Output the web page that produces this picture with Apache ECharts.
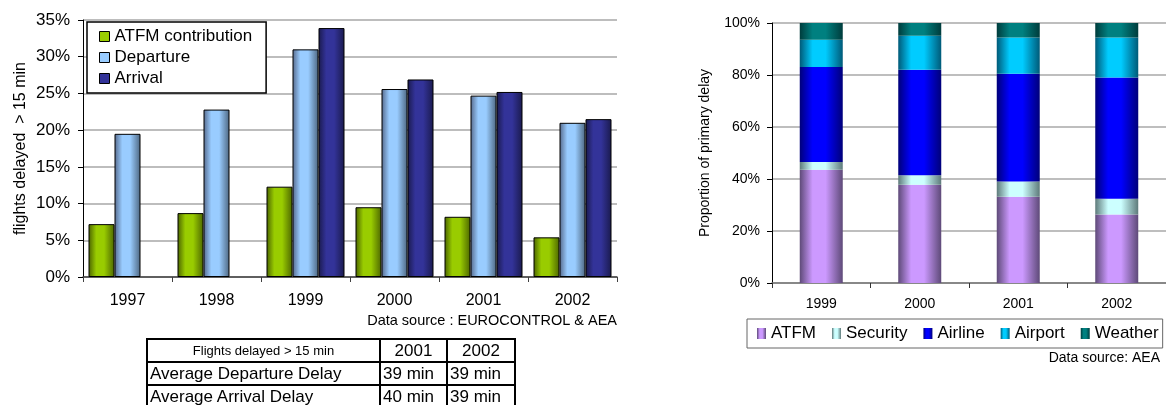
<!DOCTYPE html>
<html>
<head>
<meta charset="utf-8">
<script src="https://cdn.jsdelivr.net/npm/echarts@6/dist/echarts.min.js"></script>
<style>
  html, body { margin: 0; padding: 0; background: #fff; overflow: hidden; }
  #wrap { position: relative; width: 1166px; height: 405px; overflow: hidden; }
  #chart { position: absolute; left: 0; top: 0; width: 1166px; height: 405px; }
  #delayTable {
    position: absolute; left: 146px; top: 338px;
    border-collapse: collapse; font-family: "Liberation Sans", Arial, sans-serif;
    color: #000;
  }
  #delayTable td { border: 2px solid #000; padding: 0 2px; height: 21px; line-height: 21px; font-size: 17px; white-space: nowrap; box-sizing: border-box; }
  #delayTable td.head { font-size: 13px; text-align: center; }
  #delayTable td.year { text-align: center; }
</style>
</head>
<body>
<div id="wrap">
  <div id="chart"></div>
  <table id="delayTable"></table>
</div>
<script>
// Flights delayed > 15 min (share of flights)
const years = ['1997', '1998', '1999', '2000', '2001', '2002'];
const atfmShare = [0.072, 0.087, 0.123, 0.095, 0.082, 0.054];
const departureShare = [0.195, 0.228, 0.310, 0.256, 0.247, 0.210];
const arrivalShare = [null, null, 0.339, 0.269, 0.252, 0.215];

// Breakdown of primary delay causes
const causeYears = ['1999', '2000', '2001', '2002'];
const causeAtfm = [0.436, 0.378, 0.332, 0.263];
const causeSecurity = [0.029, 0.036, 0.058, 0.061];
const causeAirline = [0.366, 0.406, 0.415, 0.466];
const causeAirport = [0.105, 0.131, 0.139, 0.154];
const causeWeather = [0.064, 0.049, 0.056, 0.056];

// Average delay table
const tableHeader = ['Flights delayed > 15 min', '2001', '2002'];
const tableRows = [
  ['Average Departure Delay', '39 min', '39 min'],
  ['Average Arrival Delay', '40 min', '39 min']
];

const FONT = '"Liberation Sans", Arial, sans-serif';

function cylinder(edgeL, light, edgeR) {
  return {
    type: 'linear', x: 0, y: 0, x2: 1, y2: 0,
    colorStops: [
      { offset: 0, color: edgeL },
      { offset: 0.3, color: light },
      { offset: 0.6, color: light },
      { offset: 1, color: edgeR }
    ]
  };
}

const pct = v => Math.round(v * 100) + '%';

const leftSeries = [
  { name: 'ATFM contribution', data: atfmShare, solid: '#99cc00', grad: cylinder('#4a6200', '#99cc00', '#4d6600') },
  { name: 'Departure', data: departureShare, solid: '#99ccff', grad: cylinder('#55688a', '#99ccff', '#4d6680') },
  { name: 'Arrival', data: arrivalShare, solid: '#333399', grad: cylinder('#1a1a4d', '#333399', '#1a1a4d') }
];

const rightSeries = [
  { name: 'ATFM', data: causeAtfm, grad: cylinder('#5e4a78', '#cc99ff', '#5e4a78') },
  { name: 'Security', data: causeSecurity, grad: cylinder('#5e7a7a', '#ccffff', '#5e7a7a') },
  { name: 'Airline', data: causeAirline, grad: cylinder('#00007a', '#0000ff', '#00007a') },
  { name: 'Airport', data: causeAirport, grad: cylinder('#005a78', '#00ccff', '#005a78') },
  { name: 'Weather', data: causeWeather, grad: cylinder('#003c3c', '#008080', '#003c3c') }
];

const chart = echarts.init(document.getElementById('chart'), null, { renderer: 'canvas' });

const option = {
  animation: false,
  textStyle: { fontFamily: FONT, color: '#000' },
  grid: [
    { left: 83, top: 20, width: 534, height: 257 },
    { left: 772, top: 23, width: 394, height: 260 }
  ],
  legend: [
    {
      orient: 'vertical', left: 87, top: 22,
      padding: [6, 14, 6, 12],
      borderColor: '#000', borderWidth: 1.5,
      backgroundColor: '#fff',
      itemWidth: 10, itemHeight: 10, itemGap: 4,
      icon: 'rect',
      textStyle: { fontSize: 17, fontFamily: FONT, color: '#000' },
      data: leftSeries.map(s => ({ name: s.name, itemStyle: { color: s.solid, borderColor: '#000', borderWidth: 1 } }))
    },
    {
      orient: 'horizontal', left: 747, top: 319, width: 420,
      padding: [6, 4, 6, 10],
      borderColor: '#666', borderWidth: 1,
      itemWidth: 9, itemHeight: 11, itemGap: 16,
      icon: 'rect',
      textStyle: { fontSize: 17, fontFamily: FONT, color: '#000' },
      data: rightSeries.map(s => ({ name: s.name, itemStyle: { color: s.grad, borderWidth: 0 } }))
    }
  ],
  xAxis: [
    {
      type: 'category', gridIndex: 0, data: years,
      axisLine: { lineStyle: { color: '#404040', width: 1.5 } },
      axisTick: { show: true, length: 5, lineStyle: { color: '#404040' } },
      axisLabel: { fontSize: 16, color: '#000', margin: 16, fontFamily: FONT }
    },
    {
      type: 'category', gridIndex: 1, data: causeYears,
      axisLine: { lineStyle: { color: '#777', width: 1.5 } },
      axisTick: { show: true, length: 5, lineStyle: { color: '#333' } },
      axisLabel: { fontSize: 14, color: '#000', margin: 14, fontFamily: FONT }
    }
  ],
  yAxis: [
    {
      type: 'value', gridIndex: 0, min: 0, max: 0.35, interval: 0.05,
      name: 'flights delayed  > 15 min', nameLocation: 'middle', nameGap: 54,
      nameTextStyle: { fontSize: 16, color: '#000', fontFamily: FONT },
      axisLine: { show: true, lineStyle: { color: '#000', width: 1 } },
      axisTick: { show: true, length: 5, lineStyle: { color: '#000' } },
      axisLabel: { fontSize: 17, color: '#000', margin: 13, formatter: pct, fontFamily: FONT },
      splitLine: { lineStyle: { color: '#bdbdbd', width: 2 } }
    },
    {
      type: 'value', gridIndex: 1, min: 0, max: 1, interval: 0.2,
      name: 'Proportion of primary delay', nameLocation: 'middle', nameGap: 60,
      nameTextStyle: { fontSize: 14, color: '#000', fontFamily: FONT },
      axisLine: { show: true, lineStyle: { color: '#000', width: 1 } },
      axisTick: { show: true, length: 5, lineStyle: { color: '#000' } },
      axisLabel: { fontSize: 14, color: '#000', margin: 12, formatter: pct, fontFamily: FONT },
      splitLine: { lineStyle: { color: '#a8a8a8', width: 1.5 } }
    }
  ],
  series: [
    ...leftSeries.map(s => ({
      name: s.name, type: 'bar', xAxisIndex: 0, yAxisIndex: 0,
      data: s.data, barWidth: 26, barGap: '0%',
      itemStyle: { color: s.grad, borderColor: '#000', borderWidth: 1 }
    })),
    ...rightSeries.map(s => ({
      name: s.name, type: 'bar', xAxisIndex: 1, yAxisIndex: 1, stack: 'causes',
      data: s.data, barWidth: 43,
      itemStyle: { color: s.grad, borderWidth: 0 }
    }))
  ],
  graphic: [
    {
      type: 'text', right: 1166 - 617, top: 313,
      style: { text: 'Data source : EUROCONTROL & AEA', font: '14.5px ' + FONT, fill: '#000' }
    },
    {
      type: 'text', right: 6, top: 351,
      style: { text: 'Data source: AEA', font: '14px ' + FONT, fill: '#000' }
    }
  ]
};

chart.setOption(option);

// Delay table below the left chart
const table = document.getElementById('delayTable');
const widths = [233, 67, 68];
const headRow = document.createElement('tr');
tableHeader.forEach((txt, i) => {
  const td = document.createElement('td');
  td.textContent = txt;
  td.className = i === 0 ? 'head' : 'year';
  td.style.width = widths[i] + 'px';
  headRow.appendChild(td);
});
table.appendChild(headRow);
tableRows.forEach(row => {
  const tr = document.createElement('tr');
  row.forEach(txt => {
    const td = document.createElement('td');
    td.textContent = txt;
    tr.appendChild(td);
  });
  table.appendChild(tr);
});
</script>
</body>
</html>
